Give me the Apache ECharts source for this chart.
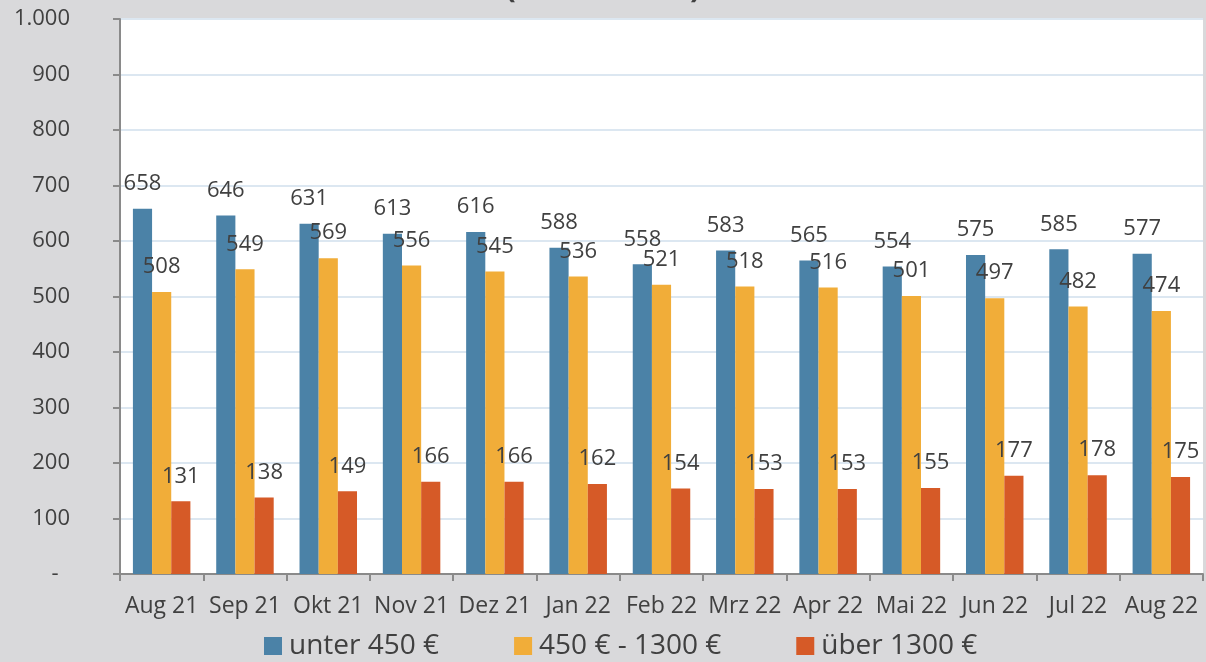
<!DOCTYPE html>
<html>
<head>
<meta charset="utf-8">
<script src="https://cdn.jsdelivr.net/npm/echarts@6/dist/echarts.min.js"></script>
<style>
  html, body { margin: 0; padding: 0; background: #d9d9db; }
  #chart { width: 1206px; height: 662px; }
</style>
</head>
<body>
<div id="chart"></div>
<script>
const months = ['Aug 21', 'Sep 21', 'Okt 21', 'Nov 21', 'Dez 21', 'Jan 22', 'Feb 22', 'Mrz 22', 'Apr 22', 'Mai 22', 'Jun 22', 'Jul 22', 'Aug 22']
const seriesNames = ['unter 450 €', '450 € - 1300 €', 'über 1300 €']
const unter450 = [658, 646, 631, 613, 616, 588, 558, 583, 565, 554, 575, 585, 577]
const mittel = [508, 549, 569, 556, 545, 536, 521, 518, 516, 501, 497, 482, 474]
const ueber1300 = [131, 138, 149, 166, 166, 162, 154, 153, 153, 155, 177, 178, 175]
const colors = ['#4b82a7', '#f1ad39', '#d65a27']

const font = '"Open Sans", "Noto Sans", sans-serif'
const textColor = '#404040'

function makeSeries(name, data) {
  return {
    name: name,
    type: 'bar',
    data: data,
    barGap: '0%',
    barCategoryGap: '31%',
    label: {
      show: true,
      position: 'top',
      distance: 14,
      color: textColor,
      fontFamily: font,
      fontSize: 22
    }
  }
}

const myChart = echarts.init(document.getElementById('chart'))
const option = {
  backgroundColor: '#d9d9db',
  color: colors,
  title: {
    text: '(in Tausend)',
    left: 'center',
    top: -33,
    textStyle: { fontFamily: font, fontSize: 32, fontWeight: 'bold', color: textColor }
  },
  grid: { left: 120, right: 3, top: 19, bottom: 88, backgroundColor: '#ffffff', show: true, borderWidth: 0 },
  legend: {
    bottom: -3,
    left: 259,
    itemWidth: 18,
    itemHeight: 18,
    itemGap: 75,
    icon: 'rect',
    textStyle: { fontFamily: font, fontSize: 28, color: textColor, padding: [0, 0, 0, 2] }
  },
  xAxis: {
    type: 'category',
    data: months,
    axisLine: { lineStyle: { color: '#8a8a8a', width: 2 } },
    axisTick: { show: true, interval: 0, length: 7, lineStyle: { color: '#8a8a8a', width: 2 } },
    axisLabel: { interval: 0, margin: 21, color: textColor, fontFamily: font, fontSize: 23 }
  },
  yAxis: {
    type: 'value',
    min: 0,
    max: 1000,
    interval: 100,
    axisLine: { show: true, lineStyle: { color: '#8a8a8a', width: 2 } },
    axisTick: { show: true, length: 7, lineStyle: { color: '#8a8a8a', width: 2 } },
    splitLine: { lineStyle: { color: '#dce7f1', width: 2 } },
    axisLabel: {
      margin: 50,
      color: textColor,
      fontFamily: font,
      fontSize: 22,
      formatter: function (v) {
        if (v === 0) return '-\u00a0\u00a0'
        return v >= 1000 ? '1.000' : String(v)
      }
    }
  },
  series: [
    makeSeries(seriesNames[0], unter450),
    makeSeries(seriesNames[1], mittel),
    makeSeries(seriesNames[2], ueber1300)
  ]
}
myChart.setOption(option)
</script>
</body>
</html>
